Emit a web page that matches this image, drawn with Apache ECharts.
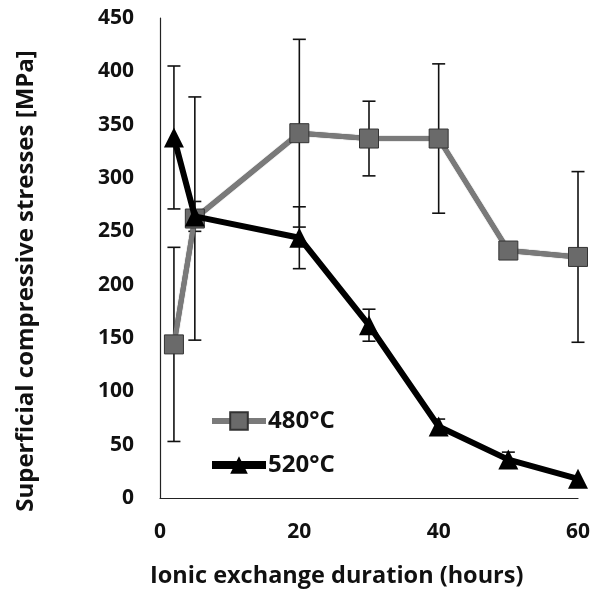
<!DOCTYPE html>
<html><head><meta charset="utf-8">
<script src="https://cdn.jsdelivr.net/npm/echarts@6/dist/echarts.min.js"></script>
<style>html,body{margin:0;padding:0;background:#fff}#c{width:601px;height:594px}</style>
</head><body><div id="c"></div>
<script>
const hours480 = [2, 5, 20, 30, 40, 50, 60];
const stress480 = [144, 262, 342, 337, 337, 232, 226];
const err480 = [91, 114, 88, 35, 70, 0, 80];
const hours520 = [2, 5, 20, 30, 40, 50, 60];
const stress520 = [338, 264, 244, 162, 67, 36, 18];
const err520 = [67, 14, 29, 15, 7, 7, 0];
const xTicks = [0, 20, 40, 60];
const yTicks = [0, 50, 100, 150, 200, 250, 300, 350, 400, 450];

const FONT = '"Open Sans", "Noto Sans", sans-serif';
function errData(xs, ys, es) { return xs.map((x, i) => [x, ys[i] - es[i], ys[i] + es[i]]); }
function errRender(params, api) {
  const x = api.value(0), lo = api.value(1), hi = api.value(2);
  if (hi - lo <= 0) return null;
  const p1 = api.coord([x, lo]), p2 = api.coord([x, hi]);
  const w = 6.5, st = { stroke: '#111', lineWidth: 1.6 };
  return { type: 'group', children: [
    { type: 'line', shape: { x1: p1[0], y1: p1[1], x2: p2[0], y2: p2[1] }, style: st },
    { type: 'line', shape: { x1: p1[0] - w, y1: p1[1], x2: p1[0] + w, y2: p1[1] }, style: st },
    { type: 'line', shape: { x1: p2[0] - w, y1: p2[1], x2: p2[0] + w, y2: p2[1] }, style: st }
  ]};
}
const chart = echarts.init(document.getElementById('c'), null, { renderer: 'canvas' });
chart.setOption({
  animation: false,
  backgroundColor: '#fff',
  grid: { left: 160, right: 23, top: 18, bottom: 96, containLabel: false },
  xAxis: {
    type: 'value', min: 0, max: 60, interval: 20,
    axisLine: { show: true, lineStyle: { color: '#222', width: 1.2 } },
    axisTick: { show: false }, splitLine: { show: false },
    axisLabel: { margin: 24, color: '#111', fontSize: 21, fontWeight: 'bold', fontFamily: FONT,
      formatter: v => xTicks.includes(v) ? String(v) : '' }
  },
  yAxis: {
    type: 'value', min: 0, max: 450, interval: 50,
    axisLine: { show: true, lineStyle: { color: '#222', width: 1.2 } },
    axisTick: { show: false }, splitLine: { show: false },
    axisLabel: { margin: 26, color: '#111', fontSize: 21, fontWeight: 'bold', fontFamily: FONT,
      formatter: v => yTicks.includes(v) ? String(v) : '' }
  },
  legend: {
    orient: 'vertical', left: 203, top: 404, itemGap: 20, itemWidth: 54, itemHeight: 22,
    textStyle: { fontSize: 24, fontWeight: 'bold', color: '#111', fontFamily: FONT, padding: [0, 0, 0, -3] },
    data: [
      { name: '480°C', lineStyle: { width: 6 } },
      { name: '520°C', lineStyle: { width: 8 } }
    ]
  },
  graphic: [
    { type: 'text', left: 150, top: 564, style: { text: 'Ionic exchange duration (hours)', fontSize: 23.5, fontWeight: 'bold', fontFamily: FONT, fill: '#111' } },
    { type: 'text', x: 14, y: 281, rotation: Math.PI / 2, style: { text: 'Superficial compressive stresses [MPa]', fontSize: 24, fontWeight: 'bold', fontFamily: FONT, fill: '#111', align: 'center', verticalAlign: 'top' } }
  ],
  series: [
    { type: 'custom', name: 'err480', renderItem: errRender, data: errData(hours480, stress480, err480), z: 1, silent: true },
    { type: 'custom', name: 'err520', renderItem: errRender, data: errData(hours520, stress520, err520), z: 1, silent: true },
    { type: 'line', name: '480°C', data: hours480.map((x, i) => [x, stress480[i]]), z: 3,
      lineStyle: { color: '#7a7a7a', width: 5, shadowColor: '#333', shadowBlur: 1 },
      itemStyle: { color: '#6a6a6a', borderColor: '#333', borderWidth: 1 },
      symbol: 'rect', symbolSize: 19 },
    { type: 'line', name: '520°C', data: hours520.map((x, i) => [x, stress520[i]]), z: 4,
      lineStyle: { color: '#000', width: 6 },
      itemStyle: { color: '#000', borderColor: '#000', borderWidth: 0 },
      symbol: 'triangle', symbolSize: 20 }
  ]
});
</script></body></html>
